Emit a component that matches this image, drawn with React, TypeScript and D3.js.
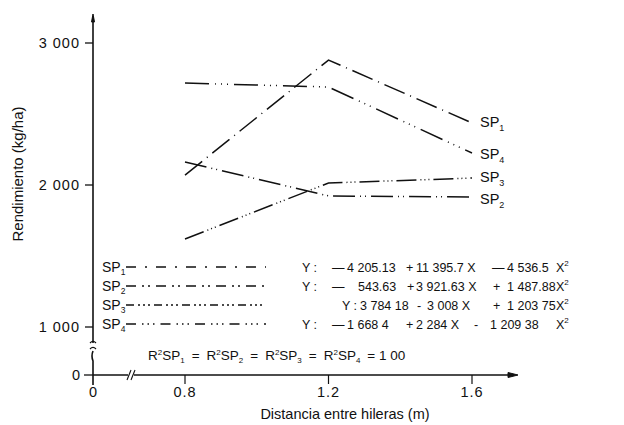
import React from 'react';
import * as d3 from 'd3';

// ---- data ----
const distances = [0.8, 1.2, 1.6];
const sp1 = [2070, 2880, 2437];
const sp2 = [2162, 1923, 1915];
const sp3 = [1620, 2014, 2049];
const sp4 = [2718, 2690, 2225];
const seriesIdx = ['1', '2', '3', '4'];
const yTicks = [1000, 2000, 3000];
const yTickLabels = ['1 000', '2 000', '3 000'];
const xTicks = [0.8, 1.2, 1.6];
const xTickLabels = ['0.8', '1.2', '1.6'];
const eq1 = ['Y :', '—', '4 205.13', '+', '11 395.7 X', '—', '4 536.5', 'X'];
const eq2 = ['Y :', '—', '543.63', '+', '3 921.63 X', '+', '1 487.88', 'X'];
const eq3 = ['Y :', '3 784 18', '-', '3 008 X', '+', '1 203 75', 'X'];
const eq4 = ['Y :', '—', '1 668 4', '+', '2 284 X', '-', '1 209 38', 'X'];

const series = [sp1, sp2, sp3, sp4];
const equations = [eq1, eq2, eq3, eq4];

// ---- layout / style ----
const W = 624, H = 425;
const FONT = 'Arial, "Liberation Sans", Helvetica, sans-serif';
const INK = '#111';
const dashes = [
  '22,6,1,6',
  '22,5,1,4,1,5',
  '20,4,1,3,1,3,1,4',
  '24,6,1,5,1,5,1,6',
];
const legendDashes = [
  '10,9,2,9',
  '10,6,2,4,2,6',
  '8,4,2,3,2,3,2,4',
  '10,6,1.5,4,1.5,4,1.5,6',
];
const eqX = [
  [302, 332, 347, 406, 416, 492, 507, 556],
  [302, 332, 358, 407, 416, 493, 507, 556],
  [342, 360, 417, 427, 493, 507, 556],
  [302, 332, 347, 406, 416, 474, 490, 556],
];
const legendY = [272, 291, 310, 329];
const endLabelY = [127, 204, 182, 159];

export default function App() {
  const x = d3.scaleLinear().domain([0.8, 1.6]).range([185, 472]);
  const y = d3.scaleLinear().domain([1000, 3000]).range([327, 43]);
  const axisX = 93;
  const axisY = 375;

  const line = d3
    .line<number>()
    .x((_, i) => x(distances[i]))
    .y((d) => y(d));

  return (
    <svg
      width={W}
      height={H}
      style={{ position: 'absolute', left: 0, top: 0, background: '#fff' }}
      fontFamily={FONT}
    >
      <rect width={W} height={H} fill="#fff" />
      {/* Y axis */}
      <g stroke={INK} strokeWidth={1.6} fill="none">
        <line x1={axisX} x2={axisX} y1={16} y2={343} />
        <path d={`M${axisX - 3},343 q3,-3 6,0`} strokeWidth={1.2} />
        <path d={`M${axisX - 3},349 q3,-3 6,0`} strokeWidth={1.2} />
        <path d={`M${axisX},351 q-2,5 0,10 L${axisX},385`} />
        <path d={`M${axisX},14 l-1.5,8 l3,0 z`} fill={INK} strokeWidth={1} />
        {yTicks.map((t) => (
          <line key={t} x1={85} x2={axisX} y1={y(t)} y2={y(t)} strokeWidth={1.3} />
        ))}
        <line x1={84} x2={axisX} y1={axisY} y2={axisY} strokeWidth={1.3} />
      </g>
      {yTicks.map((t, i) => (
        <text key={t} x={80} y={y(t)} dy="0.36em" textAnchor="end" fontSize={14.5} letterSpacing={1} fill={INK}>
          {yTickLabels[i]}
        </text>
      ))}
      <text x={80} y={axisY} dy="0.36em" textAnchor="end" fontSize={14.5} fill={INK}>
        0
      </text>

      {/* X axis */}
      <g stroke={INK} strokeWidth={1.6} fill="none">
        <line x1={axisX} x2={128} y1={axisY} y2={axisY} />
        <path d={`M127,${axisY + 5} l4,-10`} strokeWidth={1.1} />
        <path d={`M131,${axisY + 5} l4,-10`} strokeWidth={1.1} />
        <line x1={134} x2={510} y1={axisY} y2={axisY} />
        <path d={`M518,${axisY} l-10,-2.5 l0,5 z`} fill={INK} strokeWidth={1} />
        {xTicks.map((t) => (
          <line key={t} x1={x(t)} x2={x(t)} y1={axisY} y2={axisY + 9} strokeWidth={1.2} />
        ))}
      </g>
      <text x={axisX} y={397} textAnchor="middle" fontSize={14.5} fill={INK}>
        0
      </text>
      {xTicks.map((t, i) => (
        <text key={t} x={x(t)} y={397} textAnchor="middle" fontSize={14.5} letterSpacing={1} fill={INK}>
          {xTickLabels[i]}
        </text>
      ))}

      {/* Axis titles */}
      <text x={345} y={419} textAnchor="middle" fontSize={14.5} fill={INK}>
        Distancia entre hileras (m)
      </text>
      <text
        transform={`translate(23,174) rotate(-90)`}
        textAnchor="middle"
        fontSize={15}
        fill={INK}
      >
        Rendimiento (kg/ha)
      </text>

      {/* Series lines */}
      {series.map((s, i) => (
        <path
          key={i}
          d={line(s) || ''}
          fill="none"
          stroke={INK}
          strokeWidth={1.5}
          strokeDasharray={dashes[i]}
        />
      ))}
      {series.map((s, i) => (
        <text key={'l' + i} x={480} y={endLabelY[i]} fontSize={14.5} fill={INK}>
          SP
          <tspan fontSize={9} dy={4}>
            {seriesIdx[i]}
          </tspan>
        </text>
      ))}

      {/* Legend */}
      {seriesIdx.map((s, i) => (
        <g key={'leg' + i}>
          <text x={102} y={legendY[i]} fontSize={14} fill={INK}>
            SP
            <tspan fontSize={8.5} dy={3}>
              {s}
            </tspan>
          </text>
          <line
            x1={126}
            x2={266}
            y1={legendY[i] - 5}
            y2={legendY[i] - 5}
            stroke={INK}
            strokeWidth={1.3}
            strokeDasharray={legendDashes[i]}
          />
          {equations[i].map((tok, j) => {
            const isLast = j === equations[i].length - 1;
            return (
              <text key={j} x={eqX[i][j]} y={legendY[i]} fontSize={12.5} fill={INK}>
                {tok}
                {isLast ? (
                  <tspan fontSize={8} dy={-6}>
                    2
                  </tspan>
                ) : null}
              </text>
            );
          })}
        </g>
      ))}

      {/* R² note */}
      <text x={148} y={360} fontSize={13.5} fill={INK}>
        {seriesIdx.map((s, i) => (
          <React.Fragment key={i}>
            <tspan dx={i === 0 ? 0 : 7}>R</tspan>
            <tspan fontSize={8} dy={-5}>2</tspan>
            <tspan dy={5}>SP</tspan>
            <tspan fontSize={8} dy={3}>{s}</tspan>
            <tspan dy={-3} dx={7}>{i < 3 ? '=' : '= 1 00'}</tspan>
          </React.Fragment>
        ))}
      </text>
    </svg>
  );
}
